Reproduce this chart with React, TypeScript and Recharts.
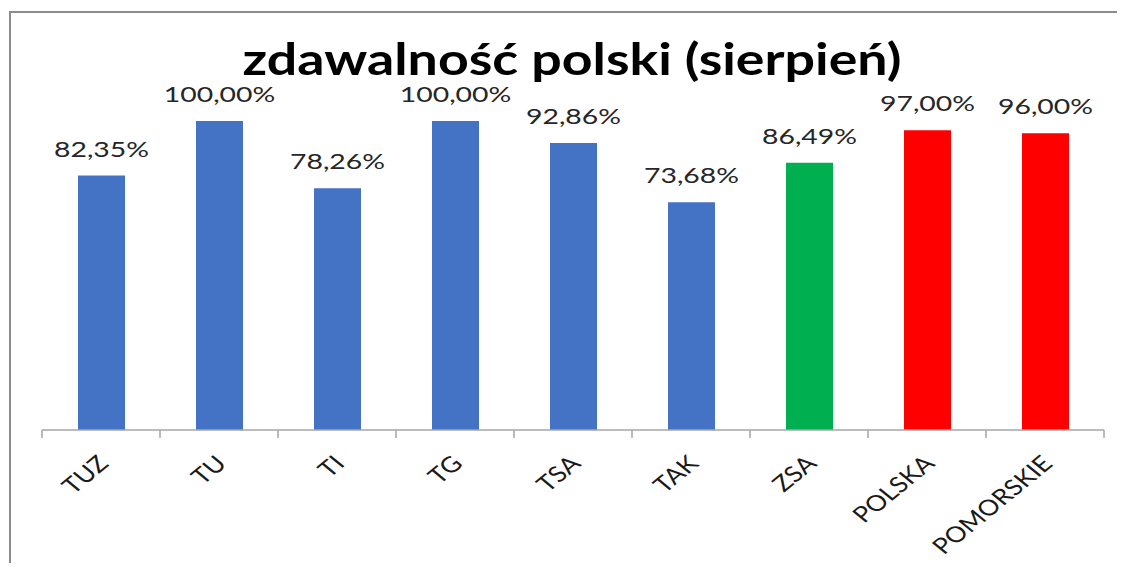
import React from "react";
import { BarChart, Bar, XAxis, YAxis, Cell, LabelList } from "recharts";

const categories = ["TUZ", "TU", "TI", "TG", "TSA", "TAK", "ZSA", "POLSKA", "POMORSKIE"];
const values = [82.35, 100, 78.26, 100, 92.86, 73.68, 86.49, 97, 96];
const colors = ["#4472C4", "#4472C4", "#4472C4", "#4472C4", "#4472C4", "#4472C4", "#00B050", "#FF0000", "#FF0000"];
const title = "zdawalność polski (sierpień)";

const data = categories.map((name, i) => ({ name, value: values[i] }));

const fmt = (v: any) => Number(v).toFixed(2).replace(".", ",") + "%";

const AxisTick = (props: any) => {
  const { x, y, payload, index, visibleTicksCount } = props;
  const half = payload.offset || 0;
  const lx = x + 9;
  const ly = y + 35;
  return (
    <g>
      <line x1={x - half} x2={x - half} y1={y} y2={y + 8} stroke="#a6a6a6" strokeWidth={1.5} />
      {index === visibleTicksCount - 1 && (
        <line x1={x + half} x2={x + half} y1={y} y2={y + 8} stroke="#a6a6a6" strokeWidth={1.5} />
      )}
      <text
        x={0}
        y={0}
        transform={`translate(${lx}, ${ly}) scale(1.22, 1) rotate(-45)`}
        textAnchor="end"
        fontFamily="Lato"
        fontSize={22}
        fill="#1a1a1a"
      >
        {payload.value}
      </text>
    </g>
  );
};

const BarLabel = (props: any) => {
  const { x, y, width, value } = props;
  const cx = x + width / 2;
  const cy = y - 19;
  return (
    <text
      x={0}
      y={0}
      transform={`translate(${cx}, ${cy}) scale(1.29, 1)`}
      textAnchor="middle"
      fontFamily="Lato"
      fontSize={22}
      fill="#262626"
    >
      {fmt(value)}
    </text>
  );
};

export default function App() {
  return (
    <div style={{ position: "relative", width: 1109, height: 555 }}>
      <style>{`html, body { overflow: hidden; }`}</style>
      <div
        style={{
          position: "absolute",
          left: 1,
          top: 3,
          width: 1116,
          height: 2,
          background: "#8c8c8c",
        }}
      />
      <div
        style={{
          position: "absolute",
          left: 1,
          top: 3,
          width: 2,
          height: 560,
          background: "#8c8c8c",
        }}
      />
      <div
        style={{
          position: "absolute",
          left: 214,
          width: 700,
          top: 28,
          textAlign: "center",
          fontFamily: "Lato",
          fontWeight: 700,
          fontSize: 44,
          lineHeight: "44px",
          whiteSpace: "nowrap",
          color: "#000",
          transform: "scaleX(1.22)",
          transformOrigin: "350px 0",
        }}
      >
        {title}
      </div>
      <div style={{ position: "absolute", left: 0, top: 0 }}>
        <BarChart
          width={1109}
          height={555}
          data={data}
          margin={{ top: 113, right: 13, left: 34, bottom: 33 }}
        >
          <YAxis hide domain={[0, 100]} width={0} />
          <XAxis
            dataKey="name"
            interval={0}
            axisLine={{ stroke: "#a6a6a6", strokeWidth: 1.5 }}
            tickLine={false}
            tickSize={0}
            tickMargin={0}
            height={100}
            tick={<AxisTick />}
          />
          <Bar dataKey="value" barSize={47} isAnimationActive={false}>
            {data.map((d, i) => (
              <Cell key={d.name} fill={colors[i]} />
            ))}
            <LabelList dataKey="value" content={<BarLabel />} />
          </Bar>
        </BarChart>
      </div>
    </div>
  );
}
